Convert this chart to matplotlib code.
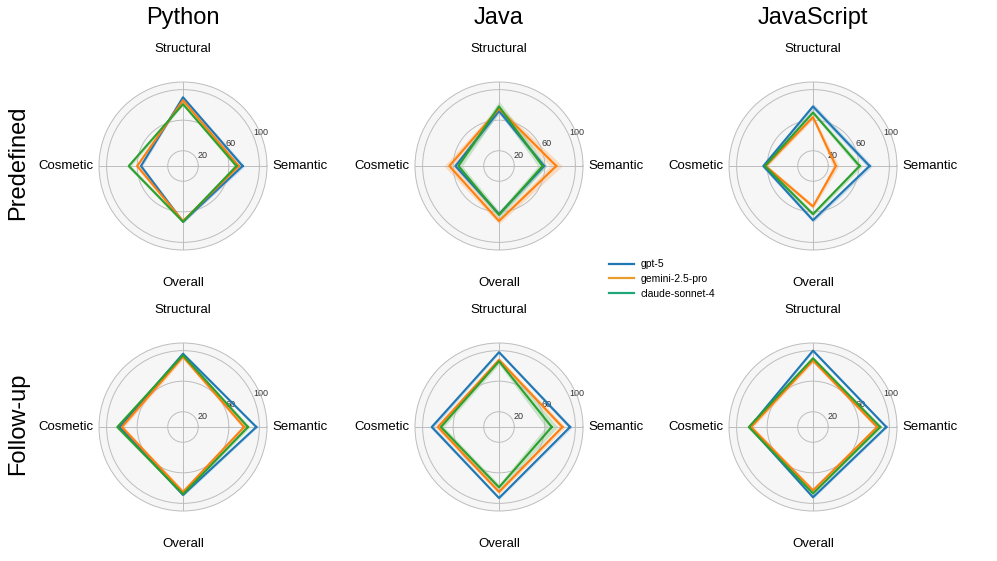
import numpy as np
import matplotlib
matplotlib.use('agg')
import matplotlib.pyplot as plt
from matplotlib.lines import Line2D

plt.rcParams['font.family'] = ['Liberation Sans', 'DejaVu Sans']

# Axis order: counter-clockwise from the right
categories = ["Semantic", "Structural", "Cosmetic", "Overall"]
models = ["gpt-5", "gemini-2.5-pro", "claude-sonnet-4"]
languages = ["Python", "Java", "JavaScript"]
settings = ["Predefined", "Follow-up"]

# mean scores per (setting, language), one row per model
pre_python = [[78, 90, 55, 73], [73, 86, 60, 72], [70, 81, 71, 73]]
pre_java = [[59, 72, 57, 63], [75, 75, 65, 72], [57, 78, 53, 64]]
pre_js = [[74, 78, 65, 71], [30, 64, 62, 53], [61, 70, 63, 63]]
fu_python = [[96, 96, 83, 89], [80, 92, 80, 85], [85, 94, 86, 88]]
fu_java = [[93, 98, 88, 93], [83, 88, 80, 85], [69, 86, 76, 79]]
fu_js = [[96, 100, 83, 92], [84, 87, 81, 83], [88, 90, 84, 87]]

# half-width of the shaded band
err_pre_python = [[3, 2, 2, 2], [2, 2, 3, 2], [3, 2, 3, 2]]
err_pre_java = [[3, 4, 3, 3], [8, 4, 7, 4], [6, 7, 5, 5]]
err_pre_js = [[4, 4, 3, 3], [4, 3, 3, 3], [4, 3, 3, 3]]
err_fu_python = [[2, 2, 2, 2], [3, 3, 3, 3], [3, 2, 3, 2]]
err_fu_java = [[3, 2, 3, 2], [4, 3, 4, 3], [8, 4, 4, 4]]
err_fu_js = [[2, 2, 2, 2], [3, 3, 3, 3], [3, 2, 3, 2]]

scores = [[pre_python, pre_java, pre_js], [fu_python, fu_java, fu_js]]
errors = [[err_pre_python, err_pre_java, err_pre_js],
          [err_fu_python, err_fu_java, err_fu_js]]

line_colors = ['#1f77b4', '#ff7f0e', '#2ca02c']
legend_colors = ['#1f77b4', '#e89c2c', '#1fa67a']

W, H = 997, 561
fig = plt.figure(figsize=(W / 100, H / 100), dpi=100)

col_x = [183, 499, 813]
row_y = [166, 427]
rad = 84

angles = np.linspace(0, 2 * np.pi, len(categories), endpoint=False)
closed = np.concatenate([angles, angles[:1]])

for r in range(2):
    for c in range(3):
        rect = [(col_x[c] - rad) / W, (H - row_y[r] - rad) / H, 2 * rad / W, 2 * rad / H]
        ax = fig.add_axes(rect, projection='polar')
        ax.set_facecolor('#f6f6f6')
        for m in range(3):
            v = np.array(scores[r][c][m], dtype=float)
            e = np.array(errors[r][c][m], dtype=float)
            vc = np.concatenate([v, v[:1]])
            ec = np.concatenate([e, e[:1]])
            ax.fill_between(closed, vc - ec, vc + ec, color=line_colors[m],
                            alpha=0.22, linewidth=0)
            ax.plot(closed, vc, color=line_colors[m], linewidth=1.5)
        ax.set_ylim(0, 110)
        ax.set_yticks([20, 60, 100])
        ax.set_yticklabels(['20', '60', '100'], fontsize=6.5, color='#333333')
        ax.set_xticks(angles)
        ax.set_xticklabels(categories, fontsize=9.5)
        ax.tick_params(axis='x', pad=13)
        ax.grid(True, color='#bdbdbd', linewidth=0.7)
        ax.spines['polar'].set_color('#bdbdbd')
        ax.spines['polar'].set_linewidth(0.7)

for c, lang in enumerate(languages):
    fig.text(col_x[c] / W, 1 - 18 / H, lang, fontsize=17, ha='center', va='center')

for r, s in enumerate(settings):
    fig.text(18 / W, 1 - (row_y[r] - 3) / H, s, fontsize=17, rotation=90,
             ha='center', va='center')

handles = [Line2D([], [], color=legend_colors[m], linewidth=1.6) for m in range(3)]
fig.legend(handles, models, loc='center left', bbox_to_anchor=(0.601, 1 - 279 / H),
           frameon=False, fontsize=7.5, handlelength=2.4, handletextpad=0.7,
           labelspacing=0.45)

plt.savefig('out.png', dpi=100)
